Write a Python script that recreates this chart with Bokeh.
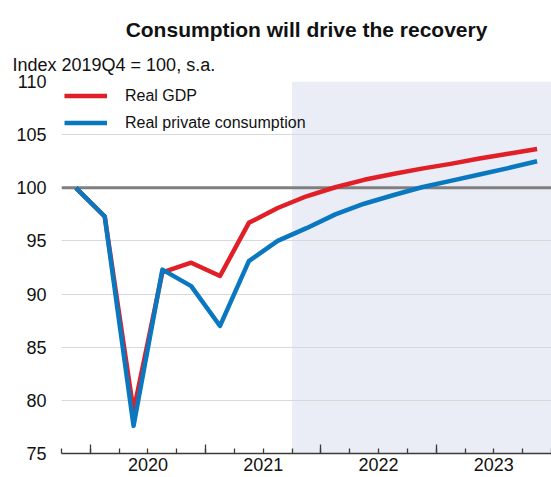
from bokeh.plotting import figure
from bokeh.models import (Range1d, FixedTicker, LinearAxis, BoxAnnotation, Span,
                          Legend, LegendItem, Title, ColumnDataSource)
from bokeh.embed import file_html
from bokeh.resources import INLINE

# ---------------- data ----------------
quarters = ["2019Q4", "2020Q1", "2020Q2", "2020Q3", "2020Q4",
            "2021Q1", "2021Q2", "2021Q3", "2021Q4",
            "2022Q1", "2022Q2", "2022Q3", "2022Q4",
            "2023Q1", "2023Q2", "2023Q3", "2023Q4"]
real_gdp = [100.0, 97.3, 79.0, 92.05, 92.95, 91.7, 96.7, 98.1, 99.2,
            100.05, 100.75, 101.3, 101.8, 102.25, 102.75, 103.2, 103.65]
real_consumption = [100.0, 97.3, 77.6, 92.3, 90.75, 87.0, 93.1, 95.0, 96.2,
                    97.5, 98.5, 99.3, 100.05, 100.65, 101.25, 101.85, 102.5]
year_labels = ["2020", "2021", "2022", "2023"]
y_ticks = [75, 80, 85, 90, 95, 100, 105, 110]
projection_start = "2021Q4"
baseline = 100
series_names = ["Real GDP", "Real private consumption"]
title_text = "Consumption will drive the recovery"
subtitle_text = "Index 2019Q4 = 100, s.a."

# ---------------- helpers ----------------
def q_start(q):
    return int(q[:4]) + (int(q[5]) - 1) / 4.0

def q_mid(q):
    return q_start(q) + 0.125

x = [q_mid(q) for q in quarters]
src = ColumnDataSource(dict(x=x, gdp=real_gdp, cons=real_consumption))

x_start = q_start(quarters[0])
x_end = q_start(quarters[-1]) + 0.25

FONT = "Liberation Sans"
RED = "#e01f26"
BLUE = "#0a78c0"
TXT = "#111111"

p = figure(width=551, height=477, output_backend="svg", toolbar_location=None,
           x_range=Range1d(x_start, x_end), y_range=Range1d(y_ticks[0], y_ticks[-1]),
           min_border_left=61, min_border_right=0, min_border_top=81, min_border_bottom=24)
p.outline_line_color = None
p.background_fill_color = "white"
p.border_fill_color = "white"

# projection shading
p.add_layout(BoxAnnotation(left=q_start(projection_start), fill_color="#eaedf5",
                           fill_alpha=1.0, line_color=None, level="image"))

# baseline
p.add_layout(Span(location=baseline, dimension="width", line_color="#7f7f7f",
                  line_width=3, level="underlay"))

r1 = p.line("x", "gdp", source=src, line_color=RED, line_width=4.5, line_join="round")
r2 = p.line("x", "cons", source=src, line_color=BLUE, line_width=4.5, line_join="round")

# y axis
p.yaxis.ticker = FixedTicker(ticks=y_ticks)
p.yaxis.axis_line_color = None
p.yaxis.major_tick_line_color = None
p.yaxis.minor_tick_line_color = None
p.yaxis.major_tick_out = 0
p.yaxis.major_tick_in = 0
p.yaxis.major_label_standoff = 15
p.yaxis.major_label_text_font = FONT
p.yaxis.major_label_text_font_size = "18px"
p.yaxis.major_label_text_color = TXT
p.ygrid.ticker = FixedTicker(ticks=y_ticks)
p.ygrid.grid_line_color = "#d9d9d9"
p.ygrid.grid_line_width = 1
p.xgrid.grid_line_color = None

# x axis: tick marks at year / quarter boundaries
years = [int(y) for y in year_labels]
quarter_bounds = [q_start(q) for q in quarters] + [x_end]
xa = p.xaxis[0]
xa.ticker = FixedTicker(ticks=[float(y) for y in years], minor_ticks=quarter_bounds)
xa.major_tick_in = 9
xa.major_tick_out = 0
xa.minor_tick_in = 5
xa.minor_tick_out = 0
xa.axis_line_color = "#3a3a3a"
xa.axis_line_width = 1.3
xa.major_tick_line_color = "#3a3a3a"
xa.major_tick_line_width = 1.3
xa.minor_tick_line_color = "#3a3a3a"
xa.minor_tick_line_width = 1.3
xa.major_label_text_font_size = "0px"
xa.major_label_standoff = 0
xa.major_label_overrides = {float(y): "" for y in years}

# x axis: year labels centred in each year
label_axis = LinearAxis(ticker=FixedTicker(ticks=[y + 0.5 for y in years]),
                        major_label_overrides={y + 0.5: lab for y, lab in zip(years, year_labels)},
                        axis_line_color=None, major_tick_line_color=None,
                        minor_tick_line_color=None, major_tick_in=0, major_tick_out=0,
                        minor_tick_in=0, minor_tick_out=0, major_label_standoff=4,
                        major_label_text_font=FONT, major_label_text_font_size="18px",
                        major_label_text_color=TXT)
p.add_layout(label_axis, "below")

# legend
legend = Legend(items=[LegendItem(label=series_names[0], renderers=[r1]),
                       LegendItem(label=series_names[1], renderers=[r2])],
                location="top_left", margin=3, padding=4, spacing=4,
                glyph_width=43, glyph_height=23, label_height=23, label_standoff=18,
                label_text_font=FONT, label_text_font_size="16px", label_text_color=TXT,
                background_fill_alpha=0, border_line_color=None)
p.add_layout(legend)

# titles
p.add_layout(Title(text=subtitle_text, align="left", offset=-49, standoff=13,
                   text_font=FONT, text_font_size="18px", text_font_style="normal",
                   text_color=TXT), "above")
p.add_layout(Title(text=title_text, align="center", standoff=10.5,
                   text_font=FONT, text_font_size="21px", text_font_style="bold",
                   text_color=TXT), "above")

open("out.html", "w").write(file_html(p, INLINE))
